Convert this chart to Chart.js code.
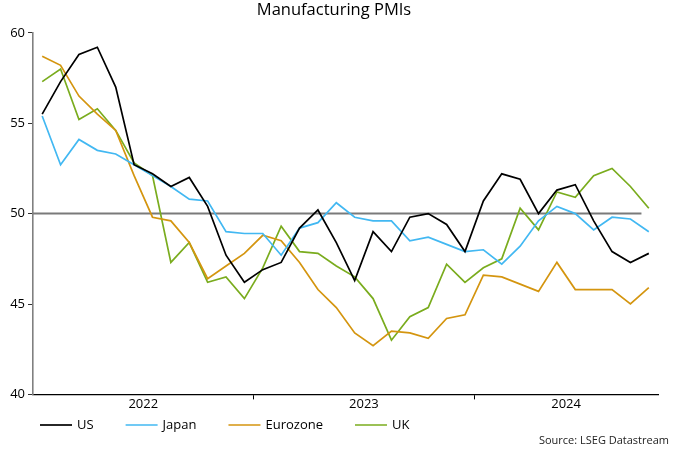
<!DOCTYPE html>
<html>
<head>
<meta charset="utf-8">
<script src="https://cdn.jsdelivr.net/npm/chart.js@4"></script>
<style>
  html, body { margin: 0; padding: 0; background: #fff; }
  #wrap { width: 680px; height: 453px; }
</style>
</head>
<body>
<div id="wrap"><canvas id="chart" width="680" height="453"></canvas></div>
<script>
// monthly, Jan 2022 .. Oct 2024
const months = [
  "2022-01","2022-02","2022-03","2022-04","2022-05","2022-06","2022-07","2022-08","2022-09","2022-10","2022-11","2022-12",
  "2023-01","2023-02","2023-03","2023-04","2023-05","2023-06","2023-07","2023-08","2023-09","2023-10","2023-11","2023-12",
  "2024-01","2024-02","2024-03","2024-04","2024-05","2024-06","2024-07","2024-08","2024-09","2024-10"
];
const us = [55.5,57.3,58.8,59.2,57.0,52.7,52.2,51.5,52.0,50.4,47.7,46.2,
            46.9,47.3,49.2,50.2,48.4,46.3,49.0,47.9,49.8,50.0,49.4,47.9,
            50.7,52.2,51.9,50.0,51.3,51.6,49.6,47.9,47.3,47.8];
const japan = [55.4,52.7,54.1,53.5,53.3,52.7,52.1,51.5,50.8,50.7,49.0,48.9,
               48.9,47.7,49.2,49.5,50.6,49.8,49.6,49.6,48.5,48.7,48.3,47.9,
               48.0,47.2,48.2,49.6,50.4,50.0,49.1,49.8,49.7,49.0];
const eurozone = [58.7,58.2,56.5,55.5,54.6,52.1,49.8,49.6,48.4,46.4,47.1,47.8,
                  48.8,48.5,47.3,45.8,44.8,43.4,42.7,43.5,43.4,43.1,44.2,44.4,
                  46.6,46.5,46.1,45.7,47.3,45.8,45.8,45.8,45.0,45.9];
const uk = [57.3,58.0,55.2,55.8,54.6,52.8,52.1,47.3,48.4,46.2,46.5,45.3,
            47.0,49.3,47.9,47.8,47.1,46.5,45.3,43.0,44.3,44.8,47.2,46.2,
            47.0,47.5,50.3,49.1,51.2,50.9,52.1,52.5,51.5,50.3];
const yTicks = [40, 45, 50, 55, 60];
const refLevel = 50;

// year labels centred on their months, tick marks at year boundaries
const years = [...new Set(months.map(m => m.slice(0, 4)))];
const yearCentre = {}, boundaries = [];
years.forEach((y, k) => {
  const idx = months.map((m, i) => m.startsWith(y) ? i : -1).filter(i => i >= 0);
  yearCentre[(idx[0] + idx[idx.length - 1]) / 2] = y;
  if (k > 0) boundaries.push(idx[0] - 0.5);
});
const xTickVals = Object.keys(yearCentre).map(Number).concat(boundaries).sort((a, b) => a - b);

const pts = arr => arr.map((v, i) => ({ x: i, y: v }));
const FONT = "'Open Sans', 'DejaVu Sans', sans-serif";

const extras = {
  id: "extras",
  beforeDatasetsDraw(chart) {
    const { ctx, scales: { x, y }, chartArea } = chart;
    const py = y.getPixelForValue(refLevel);
    ctx.save();
    ctx.strokeStyle = "#7a7a7a";
    ctx.lineWidth = 2;
    ctx.beginPath();
    ctx.moveTo(chartArea.left, py);
    ctx.lineTo(x.getPixelForValue(months.length - 1.4), py);
    ctx.stroke();
    ctx.restore();
  },
  afterDraw(chart) {
    const ctx = chart.ctx;
    ctx.save();
    // legend: short line + name, fixed gap between entries
    ctx.font = "13px " + FONT;
    ctx.textBaseline = "middle";
    let lx = 40;
    const ly = 425;
    chart.data.datasets.forEach(d => {
      ctx.strokeStyle = d.borderColor;
      ctx.lineWidth = 1.7;
      ctx.beginPath();
      ctx.moveTo(lx, ly);
      ctx.lineTo(lx + 32, ly);
      ctx.stroke();
      ctx.fillStyle = "#000";
      ctx.fillText(d.label, lx + 37, ly);
      lx += 37 + ctx.measureText(d.label).width + 32;
    });
    ctx.font = "11px " + FONT;
    ctx.fillStyle = "#222";
    ctx.textAlign = "right";
    ctx.fillText("Source: LSEG Datastream", 669, 441);
    ctx.restore();
  }
};

const ds = (label, data, color) => ({
  label, data: pts(data), borderColor: color, backgroundColor: color,
  borderWidth: 1.7, pointRadius: 0, tension: 0
});

new Chart(document.getElementById("chart"), {
  type: "line",
  data: {
    datasets: [
      ds("US", us, "#000000"),
      ds("Japan", japan, "#42b8f2"),
      ds("Eurozone", eurozone, "#d4950f"),
      ds("UK", uk, "#7aac1e")
    ]
  },
  options: {
    responsive: false,
    animation: false,
    layout: { padding: { left: 10, right: 22, top: 0, bottom: 43 } },
    plugins: {
      title: {
        display: true, text: "Manufacturing PMIs", color: "#000",
        font: { family: FONT, size: 16.5, weight: "normal" },
        padding: { top: 0, bottom: 13 }
      },
      legend: { display: false },
      tooltip: { enabled: false }
    },
    scales: {
      x: {
        type: "linear", min: -0.5, max: months.length - 0.5,
        afterBuildTicks: s => { s.ticks = xTickVals.map(v => ({ value: v })); },
        ticks: {
          autoSkip: false, maxRotation: 0, color: "#000", padding: -2.5,
          font: { family: FONT, size: 13 },
          callback: v => yearCentre[v] || ""
        },
        grid: {
          drawOnChartArea: false, tickLength: 5,
          tickColor: c => (c.tick && yearCentre[c.tick.value]) ? "rgba(0,0,0,0)" : "#000"
        },
        border: { color: "#000", width: 1.2 }
      },
      y: {
        min: 40, max: 60,
        afterBuildTicks: s => { s.ticks = yTicks.map(v => ({ value: v })); },
        afterFit: s => { s.width = 23; },
        ticks: { color: "#000", padding: 3, font: { family: FONT, size: 13 } },
        grid: { drawOnChartArea: false, tickLength: 5, tickColor: "#333" },
        border: { color: "#808080", width: 1.6 }
      }
    }
  },
  plugins: [extras]
});
</script>
</body>
</html>
